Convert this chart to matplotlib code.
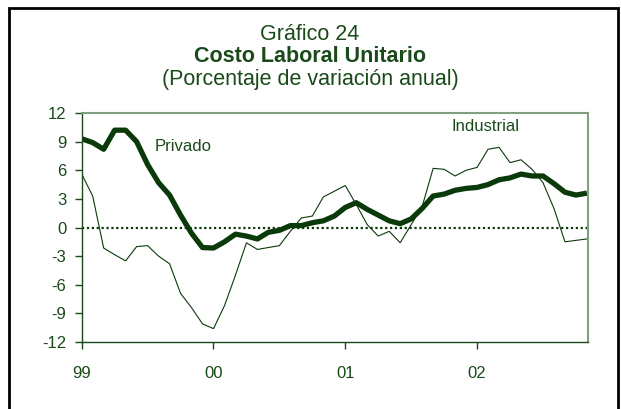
import matplotlib
matplotlib.use("Agg")
import matplotlib.pyplot as plt
from matplotlib.patches import Rectangle

plt.rcParams['font.family'] = ['Liberation Sans', 'DejaVu Sans']
plt.rcParams['axes.unicode_minus'] = False

title1 = "Gráfico 24"
title2 = "Costo Laboral Unitario"
title3 = "(Porcentaje de variación anual)"

year_ticks = [0, 12, 24, 36]
year_labels = ["99", "00", "01", "02"]
y_ticks = [-12, -9, -6, -3, 0, 3, 6, 9, 12]

privado = [9.3, 8.9, 8.2, 10.2, 10.2, 9.0, 6.6, 4.7, 3.4, 1.3, -0.6, -2.1,
           -2.15, -1.5, -0.7, -0.9, -1.2, -0.5, -0.3, 0.2, 0.2, 0.5, 0.7, 1.2,
           2.1, 2.6, 1.9, 1.3, 0.7, 0.4, 0.9, 2.0, 3.3, 3.5, 3.9, 4.1,
           4.2, 4.5, 5.0, 5.2, 5.6, 5.4, 5.4, 4.6, 3.7, 3.4, 3.6]
industrial = [5.6, 3.3, -2.15, -2.85, -3.5, -2.0, -1.9, -3.0, -3.8, -6.9, -8.4, -10.1,
              -10.6, -8.2, -5.0, -1.6, -2.3, -2.1, -1.9, -0.4, 1.0, 1.2, 3.2, 3.8,
              4.4, 2.4, 0.3, -0.9, -0.4, -1.6, 0.3, 2.2, 6.2, 6.1, 5.4, 6.0,
              6.3, 8.2, 8.4, 6.8, 7.1, 6.1, 4.7, 2.0, -1.5, -1.35, -1.2]
months = list(range(len(privado)))

dark = '#0a3a0a'
txt = '#1a4a1a'
light = '#7f9f7f'

fig = plt.figure(figsize=(6.21, 4.09), dpi=100)
W, H = 621, 409

# outer frame
fig.patches.append(Rectangle((9 / W, 0 - 0.05), 609 / W, (H - 8) / H + 0.05,
                             transform=fig.transFigure, fill=False,
                             edgecolor='black', linewidth=2.0, clip_on=False))

ax = fig.add_axes([81.7 / W, 1 - 342 / H, (588 - 81.7) / W, (342 - 113) / H])

ax.plot(months, industrial, color=dark, linewidth=0.8, solid_joinstyle='miter')
ax.plot(months, privado, color=dark, linewidth=3.8, solid_joinstyle='round',
        solid_capstyle='butt')
ax.axhline(0, color=dark, linewidth=1.6, linestyle=(0, (1, 1.2)))

ax.set_xlim(0, 46.1)
ax.set_ylim(-12, 12)
ax.set_yticks(y_ticks)
ax.set_yticklabels([str(v) for v in y_ticks])
ax.set_xticks(year_ticks)
ax.set_xticklabels(year_labels)

ax.tick_params(axis='y', direction='out', length=5, width=1, color=txt,
               labelcolor=txt, labelsize=12, pad=6)
ax.tick_params(axis='x', direction='out', length=5, width=1, color=txt,
               labelcolor=txt, labelsize=12, pad=12)

for s in ['left', 'bottom']:
    ax.spines[s].set_color(txt)
    ax.spines[s].set_linewidth(1.0)
for s in ['top', 'right']:
    ax.spines[s].set_color(light)
    ax.spines[s].set_linewidth(1.5)

ax.text(6.6, 8.5, "Privado", color=txt, fontsize=12, ha='left', va='center')
ax.text(33.7, 10.6, "Industrial", color=txt, fontsize=12, ha='left', va='center')

cx = 310 / W
fig.text(cx, 1 - 35 / H, title1, ha='center', va='center', color=txt, fontsize=15.5)
fig.text(cx, 1 - 57 / H, title2, ha='center', va='center', color=txt, fontsize=15.5,
         fontweight='bold')
fig.text(cx, 1 - 79 / H, title3, ha='center', va='center', color=txt, fontsize=15.5)

fig.savefig("out.png", dpi=100, facecolor='white')
